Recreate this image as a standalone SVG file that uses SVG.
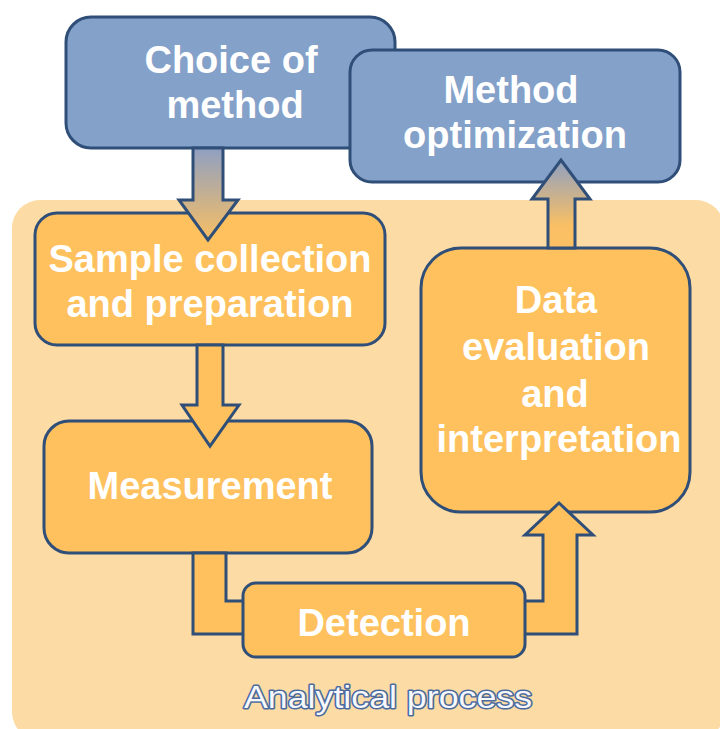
<svg xmlns="http://www.w3.org/2000/svg" width="720" height="729" viewBox="0 0 720 729">
<defs>
<linearGradient id="gDown" x1="0" y1="0" x2="0" y2="1">
<stop offset="0" stop-color="#8FA0C2"/>
<stop offset="1" stop-color="#F8BF63"/>
</linearGradient>
<linearGradient id="gUp" x1="0" y1="1" x2="0" y2="0">
<stop offset="0.25" stop-color="#FAC063"/>
<stop offset="1" stop-color="#8FA0C2"/>
</linearGradient>
</defs>
<style>
.blue{fill:#84A1C9;stroke:#2F4E78;stroke-width:3}
.orange{fill:#FEC15E;stroke:#2F4E78;stroke-width:3}
.arrow{stroke:#2F4E78;stroke-width:3;stroke-linejoin:miter}
.lbl{font-family:"Liberation Sans",Arial,sans-serif;font-weight:bold;font-size:38px;fill:#FFFFFF;text-anchor:middle}
.title{font-family:"Liberation Sans",Arial,sans-serif;font-size:32px;fill:#F6F8FC;stroke:#4A6A9E;stroke-width:3;stroke-linejoin:round;text-anchor:middle;paint-order:stroke}
</style>
<rect x="0" y="0" width="720" height="729" fill="#FFFFFF"/>
<rect id="panel" x="12" y="200" width="712" height="540" rx="28" fill="#FDDBA4"/>
<g id="choice">
<rect class="blue" x="66" y="17" width="329" height="131" rx="25"/>
<text class="lbl" x="231" y="73">Choice of</text>
<text class="lbl" x="235" y="118">method</text>
</g>
<g id="optimization">
<rect class="blue" x="350" y="50" width="330" height="132" rx="22"/>
<text class="lbl" x="511" y="103">Method</text>
<text class="lbl" x="515" y="148">optimization</text>
</g>
<g id="sample">
<rect class="orange" x="35" y="213" width="350" height="132" rx="22"/>
<text class="lbl" x="210" y="272">Sample collection</text>
<text class="lbl" x="210" y="317">and preparation</text>
</g>
<g id="measurement">
<rect class="orange" x="44" y="421" width="328" height="132" rx="25"/>
<text class="lbl" x="210" y="499">Measurement</text>
</g>
<g id="evaluation">
<rect class="orange" x="421" y="248" width="269" height="264" rx="40"/>
<text class="lbl" x="556" y="313">Data</text>
<text class="lbl" x="556" y="360">evaluation</text>
<text class="lbl" x="555" y="407">and</text>
<text class="lbl" x="559" y="452">interpretation</text>
</g>
<g id="connectors">
<path class="arrow" fill="url(#gDown)" d="M193,148 L223,148 L223,200 L238,200 L208,240 L179,200 L193,200 Z"/>
<path class="arrow" fill="#FEC15E" d="M197,345 L223,345 L223,405 L239,405 L210,446 L182,405 L197,405 Z"/>
<path class="arrow" fill="url(#gUp)" d="M548,248 L575,248 L575,199 L590,199 L561,160 L532,199 L548,199 Z"/>
<path class="arrow" fill="#FEC15E" d="M193,553 L193,634 L577,634 L577,535 L593,535 L559,503 L525,535 L543,535 L543,601 L226,601 L226,553 Z"/>
</g>
<g id="detection">
<rect class="orange" x="243" y="583" width="282" height="74" rx="13"/>
<text class="lbl" x="384" y="636">Detection</text>
</g>
<g id="label">
<text class="title" x="388" y="708" textLength="288" lengthAdjust="spacingAndGlyphs">Analytical process</text>
</g>
</svg>
